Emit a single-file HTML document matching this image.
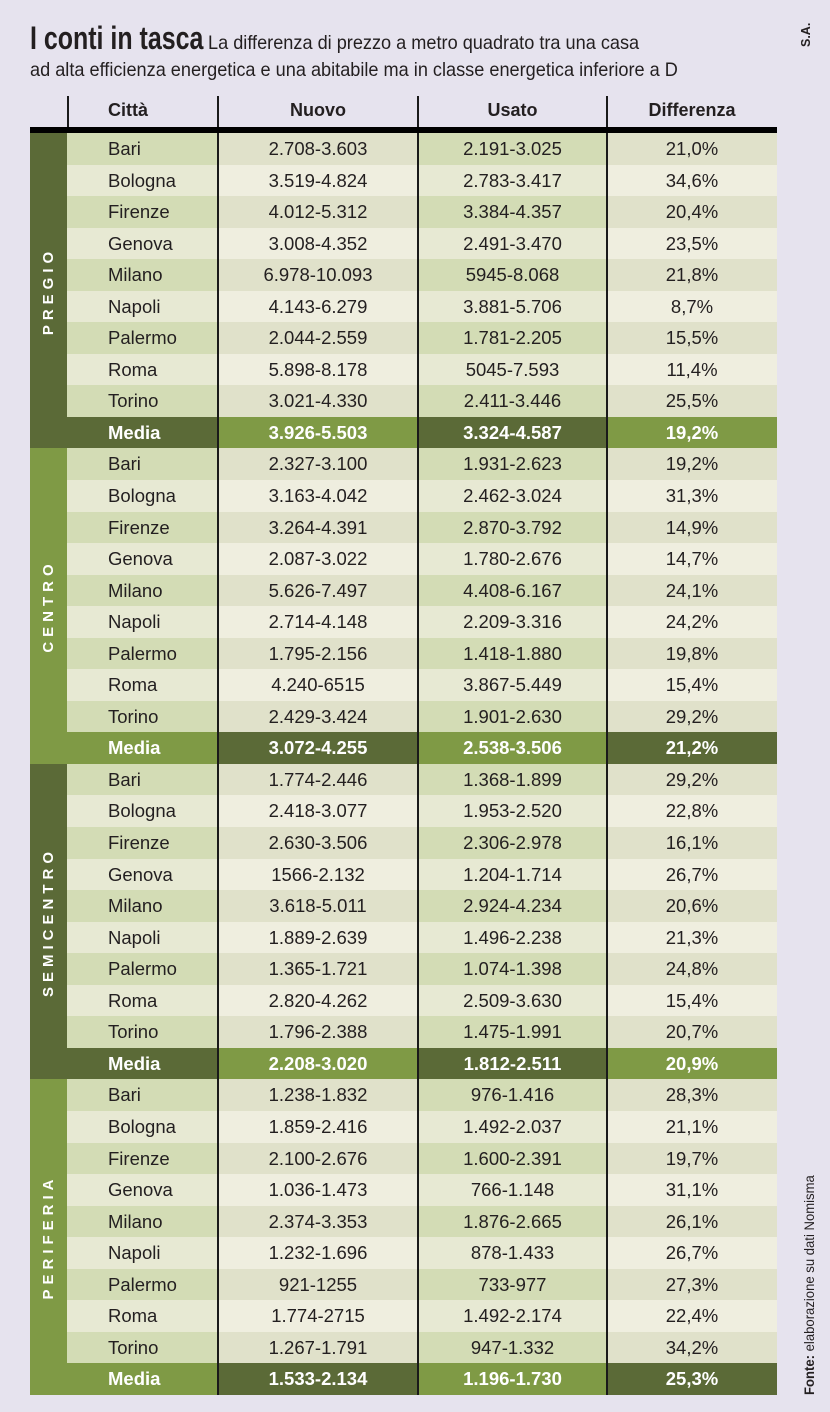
<!DOCTYPE html>
<html><head><meta charset="utf-8">
<style>
html,body{margin:0;padding:0}
body{width:830px;height:1412px;background:#e6e3ee;position:relative;overflow:hidden;font-family:"Liberation Sans Narrow","Liberation Sans",sans-serif;color:#231f20}
.title{position:absolute;left:30px;top:21px;font-size:32px;font-weight:bold;white-space:nowrap;line-height:34px;transform-origin:0 0;transform:scaleX(0.78)}
.sub{position:absolute;left:208px;top:31px;font-size:19.5px;white-space:nowrap;line-height:24px;transform-origin:0 0;transform:scaleX(0.93)}
.sub2{position:absolute;left:30px;top:58px;font-size:19.5px;white-space:nowrap;line-height:24px;transform-origin:0 0;transform:scaleX(0.93)}
.sa{position:absolute;left:799px;top:26px;width:20px;font-size:12.5px;font-weight:bold;transform-origin:0 0;transform:translate(0,21px) rotate(-90deg);white-space:nowrap}
.fonte{position:absolute;left:802px;top:1395px;font-size:13.5px;white-space:nowrap;transform-origin:0 0;transform:rotate(-90deg) scaleX(0.97);line-height:16px}
.hd{position:absolute;top:96px;font-size:18px;font-weight:bold;line-height:28px;text-align:center}
.vl{position:absolute;width:1.5px;background:#1a1a1a}
.thick{position:absolute;left:30px;top:127px;width:747px;height:6px;background:#000}
.grid{position:absolute;left:30px;top:133px;width:747px;height:1262px;display:grid;grid-template-columns:37px 151px 200px 189px 170px;grid-template-rows:repeat(40,31.55px)}
.grid>div{font-size:18.5px;line-height:31.55px;text-align:center;white-space:nowrap}
.grid>div.c{text-align:left;padding-left:41px}
.o.c,.o.u{background:#d3dcb5}
.o.n,.o.d{background:#e0e1ca}
.e.c,.e.u{background:#e7e9d3}
.e.n,.e.d{background:#efeedf}
.D{background:#5b6a37;color:#fff;font-weight:bold}
.L{background:#7f9a45;color:#fff;font-weight:bold}
.band{position:relative}
.band span{position:absolute;left:50%;top:50%;transform:translate(-50%,-50%) rotate(-90deg);color:#fff;font-weight:bold;font-size:15px;letter-spacing:5px;line-height:16px;font-family:"Liberation Sans",sans-serif}
</style></head><body>
<div class="title">I conti in tasca</div>
<div class="sub">La differenza di prezzo a metro quadrato tra una casa</div>
<div class="sub2">ad alta efficienza energetica e una abitabile ma in classe energetica inferiore a D</div>
<div class="sa">S.A.</div>
<div class="fonte"><b>Fonte:</b> elaborazione su dati Nomisma</div>

<div class="hd" style="left:108px;text-align:left">Città</div>
<div class="hd" style="left:218px;width:200px">Nuovo</div>
<div class="hd" style="left:418px;width:189px">Usato</div>
<div class="hd" style="left:607px;width:170px">Differenza</div>

<div class="grid">
<div class="band D" style="grid-column:1;grid-row:1/11"><span>PREGIO</span></div>
<div class="band L" style="grid-column:1;grid-row:11/21"><span>CENTRO</span></div>
<div class="band D" style="grid-column:1;grid-row:21/31"><span>SEMICENTRO</span></div>
<div class="band L" style="grid-column:1;grid-row:31/41"><span>PERIFERIA</span></div>

<div class="o c">Bari</div><div class="o n">2.708-3.603</div><div class="o u">2.191-3.025</div><div class="o d">21,0%</div>
<div class="e c">Bologna</div><div class="e n">3.519-4.824</div><div class="e u">2.783-3.417</div><div class="e d">34,6%</div>
<div class="o c">Firenze</div><div class="o n">4.012-5.312</div><div class="o u">3.384-4.357</div><div class="o d">20,4%</div>
<div class="e c">Genova</div><div class="e n">3.008-4.352</div><div class="e u">2.491-3.470</div><div class="e d">23,5%</div>
<div class="o c">Milano</div><div class="o n">6.978-10.093</div><div class="o u">5945-8.068</div><div class="o d">21,8%</div>
<div class="e c">Napoli</div><div class="e n">4.143-6.279</div><div class="e u">3.881-5.706</div><div class="e d">8,7%</div>
<div class="o c">Palermo</div><div class="o n">2.044-2.559</div><div class="o u">1.781-2.205</div><div class="o d">15,5%</div>
<div class="e c">Roma</div><div class="e n">5.898-8.178</div><div class="e u">5045-7.593</div><div class="e d">11,4%</div>
<div class="o c">Torino</div><div class="o n">3.021-4.330</div><div class="o u">2.411-3.446</div><div class="o d">25,5%</div>
<div class="c D">Media</div><div class="L">3.926-5.503</div><div class="D">3.324-4.587</div><div class="L">19,2%</div>

<div class="o c">Bari</div><div class="o n">2.327-3.100</div><div class="o u">1.931-2.623</div><div class="o d">19,2%</div>
<div class="e c">Bologna</div><div class="e n">3.163-4.042</div><div class="e u">2.462-3.024</div><div class="e d">31,3%</div>
<div class="o c">Firenze</div><div class="o n">3.264-4.391</div><div class="o u">2.870-3.792</div><div class="o d">14,9%</div>
<div class="e c">Genova</div><div class="e n">2.087-3.022</div><div class="e u">1.780-2.676</div><div class="e d">14,7%</div>
<div class="o c">Milano</div><div class="o n">5.626-7.497</div><div class="o u">4.408-6.167</div><div class="o d">24,1%</div>
<div class="e c">Napoli</div><div class="e n">2.714-4.148</div><div class="e u">2.209-3.316</div><div class="e d">24,2%</div>
<div class="o c">Palermo</div><div class="o n">1.795-2.156</div><div class="o u">1.418-1.880</div><div class="o d">19,8%</div>
<div class="e c">Roma</div><div class="e n">4.240-6515</div><div class="e u">3.867-5.449</div><div class="e d">15,4%</div>
<div class="o c">Torino</div><div class="o n">2.429-3.424</div><div class="o u">1.901-2.630</div><div class="o d">29,2%</div>
<div class="c L">Media</div><div class="D">3.072-4.255</div><div class="L">2.538-3.506</div><div class="D">21,2%</div>

<div class="o c">Bari</div><div class="o n">1.774-2.446</div><div class="o u">1.368-1.899</div><div class="o d">29,2%</div>
<div class="e c">Bologna</div><div class="e n">2.418-3.077</div><div class="e u">1.953-2.520</div><div class="e d">22,8%</div>
<div class="o c">Firenze</div><div class="o n">2.630-3.506</div><div class="o u">2.306-2.978</div><div class="o d">16,1%</div>
<div class="e c">Genova</div><div class="e n">1566-2.132</div><div class="e u">1.204-1.714</div><div class="e d">26,7%</div>
<div class="o c">Milano</div><div class="o n">3.618-5.011</div><div class="o u">2.924-4.234</div><div class="o d">20,6%</div>
<div class="e c">Napoli</div><div class="e n">1.889-2.639</div><div class="e u">1.496-2.238</div><div class="e d">21,3%</div>
<div class="o c">Palermo</div><div class="o n">1.365-1.721</div><div class="o u">1.074-1.398</div><div class="o d">24,8%</div>
<div class="e c">Roma</div><div class="e n">2.820-4.262</div><div class="e u">2.509-3.630</div><div class="e d">15,4%</div>
<div class="o c">Torino</div><div class="o n">1.796-2.388</div><div class="o u">1.475-1.991</div><div class="o d">20,7%</div>
<div class="c D">Media</div><div class="L">2.208-3.020</div><div class="D">1.812-2.511</div><div class="L">20,9%</div>

<div class="o c">Bari</div><div class="o n">1.238-1.832</div><div class="o u">976-1.416</div><div class="o d">28,3%</div>
<div class="e c">Bologna</div><div class="e n">1.859-2.416</div><div class="e u">1.492-2.037</div><div class="e d">21,1%</div>
<div class="o c">Firenze</div><div class="o n">2.100-2.676</div><div class="o u">1.600-2.391</div><div class="o d">19,7%</div>
<div class="e c">Genova</div><div class="e n">1.036-1.473</div><div class="e u">766-1.148</div><div class="e d">31,1%</div>
<div class="o c">Milano</div><div class="o n">2.374-3.353</div><div class="o u">1.876-2.665</div><div class="o d">26,1%</div>
<div class="e c">Napoli</div><div class="e n">1.232-1.696</div><div class="e u">878-1.433</div><div class="e d">26,7%</div>
<div class="o c">Palermo</div><div class="o n">921-1255</div><div class="o u">733-977</div><div class="o d">27,3%</div>
<div class="e c">Roma</div><div class="e n">1.774-2715</div><div class="e u">1.492-2.174</div><div class="e d">22,4%</div>
<div class="o c">Torino</div><div class="o n">1.267-1.791</div><div class="o u">947-1.332</div><div class="o d">34,2%</div>
<div class="c L">Media</div><div class="D">1.533-2.134</div><div class="L">1.196-1.730</div><div class="D">25,3%</div>
</div>

<div class="vl" style="left:67px;top:96px;height:32px"></div>
<div class="vl" style="left:217px;top:96px;height:1299px"></div>
<div class="vl" style="left:417px;top:96px;height:1299px"></div>
<div class="vl" style="left:606px;top:96px;height:1299px"></div>
<div class="thick"></div>
</body></html>
